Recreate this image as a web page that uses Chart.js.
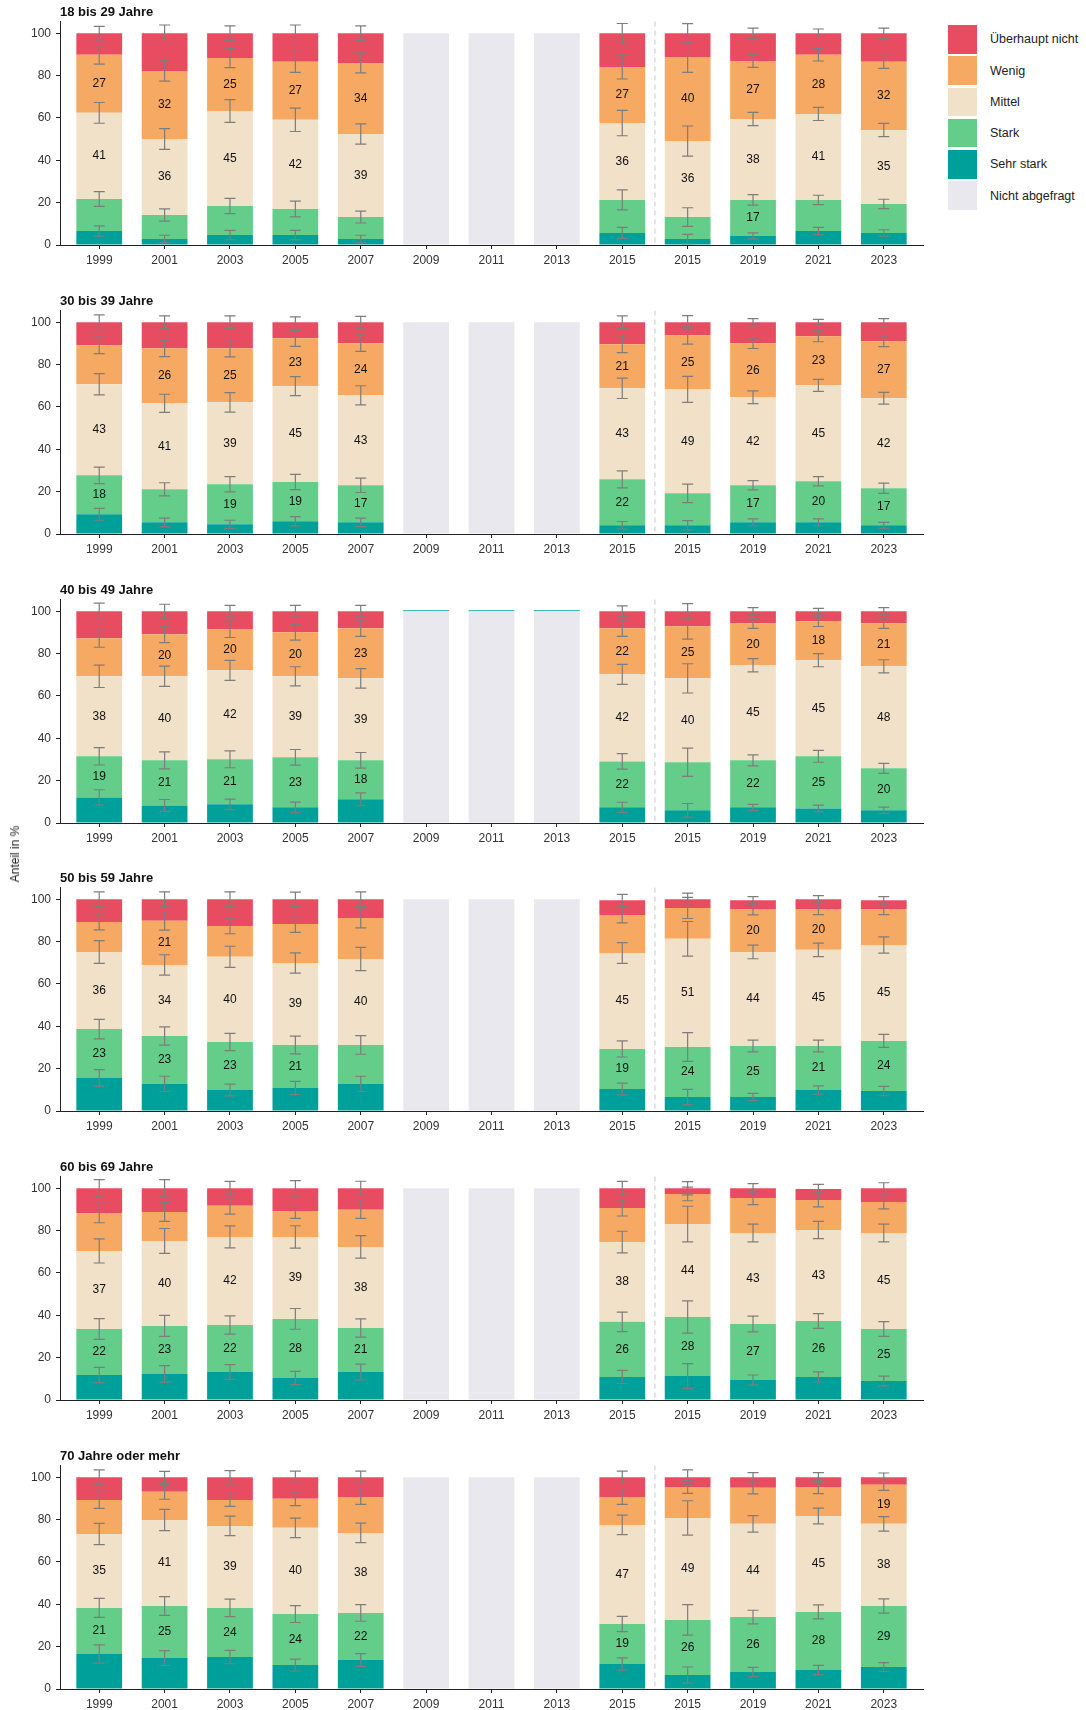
<!DOCTYPE html>
<html>
<head>
<meta charset="utf-8">
<script src="https://cdn.jsdelivr.net/npm/chart.js@4.4.0/dist/chart.umd.min.js"></script>
<style>
  body { margin: 0; background: #fff; width: 1086px; height: 1710px; overflow: hidden; position: relative;
         font-family: "Liberation Sans", Arial, sans-serif; }
  .panel { position: absolute; left: 0; width: 930px; height: 289px; }
  #legend { position: absolute; left: 948px; top: 25px; }
  .item { display: flex; align-items: center; height: 28.5px; margin-bottom: 2.8px; }
  .swatch { width: 29px; height: 28.5px; margin-right: 13px; }
  .item span { font-size: 12.5px; color: #222; }
  #ytitle { position: absolute; left: 15px; top: 854px; transform: translate(-50%, -50%) rotate(-90deg);
            font-size: 12px; color: #222; white-space: nowrap; }
</style>
</head>
<body>
<div class="panel" style="top:0px"><canvas id="c0" width="930" height="289"></canvas></div>
<div class="panel" style="top:289px"><canvas id="c1" width="930" height="289"></canvas></div>
<div class="panel" style="top:578px"><canvas id="c2" width="930" height="289"></canvas></div>
<div class="panel" style="top:866px"><canvas id="c3" width="930" height="289"></canvas></div>
<div class="panel" style="top:1155px"><canvas id="c4" width="930" height="289"></canvas></div>
<div class="panel" style="top:1444px"><canvas id="c5" width="930" height="289"></canvas></div>
<div id="legend"></div>
<div id="ytitle">Anteil in %</div>
<script>
const N = null;
const jahre = ['1999', '2001', '2003', '2005', '2007', '2009', '2011', '2013', '2015', '2015', '2019', '2021', '2023'];
const yTicks = [0, 20, 40, 60, 80, 100];
const serien = ['Sehr stark', 'Stark', 'Mittel', 'Wenig', 'Überhaupt nicht'];
const farben = ['#00a09a', '#64cd8a', '#f0e1c8', '#f5a962', '#e84c60'];
const grauFarbe = '#e8e8ee';
const nichtAbgefragt = [N, N, N, N, N, 100, 100, 100, N, N, N, N, N];
const leer = [N, N, N, N, N, N, N, N, N, N, N, N, N];

// rows: Sehr stark, Stark, Mittel, Wenig, Überhaupt nicht
// 18 bis 29 Jahre
const anteile_18_29 = [
  [6.6, 2.8, 4.7, 4.7, 2.8, N, N, N, 5.7, 2.8, 4.3, 6.6, 5.7],
  [15.1, 11.4, 13.7, 12.3, 10.4, N, N, N, 15.6, 10.4, 17.0, 14.7, 13.7],
  [40.7, 35.9, 44.9, 42.1, 39.2, N, N, N, 36.3, 35.9, 38.2, 40.6, 34.9],
  [27.4, 32.1, 25.0, 27.4, 33.6, N, N, N, 26.5, 39.7, 27.4, 27.9, 32.2],
  [10.2, 17.8, 11.7, 13.5, 14.0, N, N, N, 15.9, 11.2, 13.1, 10.2, 13.5]
];
const fehler_18_29 = [
  [2.4, 1.8, 2.2, 2.2, 1.8, N, N, N, 2.6, 2.2, 1.4, 1.7, 1.5],
  [3.5, 2.9, 3.6, 3.7, 2.8, N, N, N, 4.7, 4.4, 2.5, 2.2, 2.2],
  [4.9, 4.9, 5.4, 5.5, 4.8, N, N, N, 6.0, 7.1, 3.1, 3.1, 3.1],
  [4.4, 4.8, 4.5, 5.0, 4.7, N, N, N, 5.7, 7.3, 3.0, 2.9, 3.1],
  [3.2, 3.9, 3.5, 3.9, 3.5, N, N, N, 4.6, 4.5, 2.4, 2.0, 2.4]
];
const labels_18_29 = [
  leer,
  [N, N, N, N, N, N, N, N, N, N, 17, N, N],
  [41, 36, 45, 42, 39, N, N, N, 36, 36, 38, 41, 35],
  [27, 32, 25, 27, 34, N, N, N, 27, 40, 27, 28, 32],
  leer
];

// 30 bis 39 Jahre
const anteile_30_39 = [
  [9.3, 5.5, 4.6, 6.0, 5.5, N, N, N, 4.1, 4.1, 5.5, 5.5, 4.1],
  [18.4, 15.6, 18.9, 18.6, 17.5, N, N, N, 21.7, 15.1, 17.5, 19.4, 17.5],
  [43.0, 40.6, 38.7, 45.2, 42.5, N, N, N, 43.0, 49.1, 41.6, 45.3, 42.5],
  [18.4, 26.0, 25.5, 22.6, 24.6, N, N, N, 20.8, 25.6, 25.5, 23.2, 26.9],
  [10.9, 12.3, 12.3, 7.6, 9.9, N, N, N, 10.4, 6.1, 9.9, 6.6, 9.0]
];
const fehler_30_39 = [
  [2.8, 2.0, 1.9, 2.2, 2.0, N, N, N, 1.8, 2.2, 1.6, 1.6, 1.4],
  [3.9, 3.1, 3.6, 3.6, 3.4, N, N, N, 4.0, 4.4, 2.2, 2.2, 2.4],
  [5.0, 4.3, 4.6, 4.5, 4.5, N, N, N, 4.8, 6.1, 3.0, 2.8, 2.8],
  [3.9, 3.9, 4.1, 3.8, 3.9, N, N, N, 3.9, 4.2, 2.5, 2.6, 2.5],
  [3.5, 3.0, 3.0, 2.5, 2.8, N, N, N, 3.0, 3.1, 1.7, 1.4, 1.7]
];
const labels_30_39 = [
  leer,
  [18, N, 19, 19, 17, N, N, N, 22, N, 17, 20, 17],
  [43, 41, 39, 45, 43, N, N, N, 43, 49, 42, 45, 42],
  [N, 26, 25, 23, 24, N, N, N, 21, 25, 26, 23, 27],
  leer
];

// 40 bis 49 Jahre
const anteile_40_49 = [
  [12.1, 8.3, 8.8, 7.4, 11.2, 0.5, 0.5, 0.5, 7.4, 6.0, 7.4, 6.9, 6.0],
  [19.4, 21.3, 21.3, 23.6, 18.4, N, N, N, 21.7, 22.7, 22.2, 24.6, 19.8],
  [37.8, 39.7, 42.0, 38.3, 38.7, N, N, N, 41.1, 39.6, 44.9, 45.4, 48.2],
  [17.9, 19.8, 19.4, 20.8, 23.7, N, N, N, 21.8, 24.6, 19.8, 18.4, 20.3],
  [12.8, 10.9, 8.5, 9.9, 8.0, N, N, N, 8.0, 7.1, 5.7, 4.7, 5.7]
];
const fehler_40_49 = [
  [3.6, 2.8, 2.5, 2.5, 3.0, N, N, N, 2.4, 3.2, 1.4, 1.5, 1.5],
  [4.1, 4.0, 4.0, 3.7, 3.7, N, N, N, 3.7, 6.7, 2.6, 2.8, 2.4],
  [5.3, 4.8, 4.7, 4.5, 4.6, N, N, N, 4.7, 6.9, 3.1, 3.1, 3.1],
  [4.2, 3.9, 3.9, 3.7, 3.9, N, N, N, 3.9, 6.1, 2.4, 2.5, 2.4],
  [3.8, 3.3, 2.8, 2.8, 2.8, N, N, N, 2.5, 3.6, 1.7, 1.4, 1.7]
];
const labels_40_49 = [
  leer,
  [19, 21, 21, 23, 18, N, N, N, 22, N, 22, 25, 20],
  [38, 40, 42, 39, 39, N, N, N, 42, 40, 45, 45, 48],
  [N, 20, 20, 20, 23, N, N, N, 22, 25, 20, 18, 21],
  leer
];

// 50 bis 59 Jahre
const anteile_50_59 = [
  [15.6, 12.8, 9.9, 10.9, 12.8, N, N, N, 10.4, 6.6, 6.6, 9.9, 9.4],
  [23.1, 22.6, 22.7, 20.3, 18.4, N, N, N, 18.9, 23.6, 24.1, 20.8, 23.7],
  [36.4, 33.6, 40.2, 38.7, 40.6, N, N, N, 45.3, 51.1, 44.4, 45.4, 45.3],
  [14.2, 20.8, 14.6, 18.4, 19.4, N, N, N, 18.0, 14.6, 20.3, 19.3, 17.0],
  [10.7, 10.2, 12.6, 11.7, 8.8, N, N, N, 6.9, 4.1, 4.1, 4.6, 4.1]
];
const fehler_50_59 = [
  [3.9, 3.6, 2.8, 3.1, 3.6, N, N, N, 2.8, 3.6, 1.7, 2.0, 2.2],
  [4.6, 4.3, 4.1, 4.2, 4.4, N, N, N, 3.8, 6.8, 2.8, 2.8, 3.1],
  [5.4, 4.8, 5.0, 4.8, 5.5, N, N, N, 4.9, 8.2, 3.2, 3.2, 3.8],
  [3.8, 4.4, 3.7, 3.9, 4.7, N, N, N, 3.8, 5.0, 2.8, 2.7, 2.7],
  [3.5, 3.5, 3.5, 3.4, 3.5, N, N, N, 2.8, 2.9, 1.7, 1.7, 1.7]
];
const labels_50_59 = [
  leer,
  [23, 23, 23, 21, N, N, N, N, 19, 24, 25, 21, 24],
  [36, 34, 40, 39, 40, N, N, N, 45, 51, 44, 45, 45],
  [N, 21, N, N, N, N, N, N, N, N, 20, 20, N],
  leer
];

// 60 bis 69 Jahre
const anteile_60_69 = [
  [11.8, 12.3, 13.2, 10.4, 13.2, N, N, N, 10.9, 11.3, 9.4, 10.9, 9.0],
  [21.7, 22.7, 22.2, 27.9, 20.8, N, N, N, 26.0, 27.9, 26.5, 26.4, 24.5],
  [36.9, 40.1, 41.6, 38.7, 38.3, N, N, N, 37.7, 43.9, 43.0, 43.0, 45.4],
  [17.9, 13.7, 14.7, 12.3, 17.5, N, N, N, 16.1, 14.2, 16.5, 14.2, 14.6],
  [11.7, 11.2, 8.3, 10.7, 10.2, N, N, N, 9.3, 2.7, 4.6, 5.2, 6.5]
];
const fehler_60_69 = [
  [3.6, 3.9, 3.5, 3.1, 3.7, N, N, N, 3.1, 5.9, 2.4, 2.4, 2.3],
  [4.9, 5.0, 4.3, 4.9, 4.3, N, N, N, 4.6, 7.6, 3.7, 3.5, 3.5],
  [5.7, 5.9, 5.2, 5.3, 5.3, N, N, N, 5.1, 8.4, 4.2, 4.1, 4.2],
  [4.6, 4.4, 3.9, 3.5, 4.0, N, N, N, 3.8, 3.2, 3.1, 3.3, 3.2],
  [4.1, 4.1, 3.2, 3.6, 3.3, N, N, N, 3.2, 3.1, 2.2, 2.1, 2.6]
];
const labels_60_69 = [
  leer,
  [22, 23, 22, 28, 21, N, N, N, 26, 28, 27, 26, 25],
  [37, 40, 42, 39, 38, N, N, N, 38, 44, 43, 43, 45],
  leer,
  leer
];

// 70 Jahre oder mehr
const anteile_70 = [
  [16.5, 14.6, 15.1, 11.3, 13.7, N, N, N, 11.8, 6.6, 8.0, 9.0, 10.4],
  [21.8, 24.6, 23.2, 24.1, 22.2, N, N, N, 18.9, 26.0, 26.0, 27.4, 28.8],
  [34.9, 40.6, 38.7, 40.7, 37.8, N, N, N, 46.8, 48.2, 44.0, 45.3, 38.8],
  [16.1, 13.3, 12.3, 13.7, 17.0, N, N, N, 13.2, 14.6, 17.0, 13.7, 18.4],
  [10.7, 6.9, 10.7, 10.2, 9.3, N, N, N, 9.3, 4.6, 5.0, 4.6, 3.6]
];
const fehler_70 = [
  [4.3, 3.5, 3.1, 2.8, 3.0, N, N, N, 2.9, 3.8, 2.2, 2.2, 2.1],
  [4.5, 4.4, 4.1, 4.0, 3.9, N, N, N, 3.6, 7.2, 3.2, 3.3, 3.4],
  [5.0, 5.0, 4.6, 4.6, 4.6, N, N, N, 4.6, 8.1, 3.9, 3.7, 3.4],
  [4.0, 3.5, 3.1, 3.2, 3.5, N, N, N, 3.5, 3.0, 2.9, 3.1, 2.6],
  [3.5, 2.8, 3.1, 2.9, 2.9, N, N, N, 2.9, 3.5, 2.2, 2.2, 2.0]
];
const labels_70 = [
  leer,
  [21, 25, 24, 24, 22, N, N, N, 19, 26, 26, 28, 29],
  [35, 41, 39, 40, 38, N, N, N, 47, 49, 44, 45, 38],
  [N, N, N, N, N, N, N, N, N, N, N, N, 19],
  leer
];

const panels = [
  { titel: '18 bis 29 Jahre', anteile: anteile_18_29, fehler: fehler_18_29, labels: labels_18_29 },
  { titel: '30 bis 39 Jahre', anteile: anteile_30_39, fehler: fehler_30_39, labels: labels_30_39 },
  { titel: '40 bis 49 Jahre', anteile: anteile_40_49, fehler: fehler_40_49, labels: labels_40_49 },
  { titel: '50 bis 59 Jahre', anteile: anteile_50_59, fehler: fehler_50_59, labels: labels_50_59 },
  { titel: '60 bis 69 Jahre', anteile: anteile_60_69, fehler: fehler_60_69, labels: labels_60_69 },
  { titel: '70 Jahre oder mehr', anteile: anteile_70, fehler: fehler_70, labels: labels_70 }
];

const FONT = '"Liberation Sans", Arial, sans-serif';
Chart.defaults.font.family = FONT;

// dashed separator between the two 2015 bars
const trennPlugin = {
  id: 'trenner',
  beforeDatasetsDraw(chart) {
    const { ctx, chartArea, scales: { x } } = chart;
    const px = x.getPixelForValue(8.5);
    ctx.save();
    ctx.strokeStyle = '#c8c8c8';
    ctx.lineWidth = 1;
    ctx.setLineDash([5, 4]);
    ctx.beginPath();
    ctx.moveTo(px, chartArea.top);
    ctx.lineTo(px, chartArea.bottom);
    ctx.stroke();
    ctx.restore();
  }
};

// error bars at each stack boundary + value labels inside segments
const fehlerPlugin = {
  id: 'fehlerbalken',
  afterDatasetsDraw(chart, args, opts) {
    const { ctx, scales: { y } } = chart;
    ctx.save();
    ctx.strokeStyle = '#7d7d7d';
    ctx.lineWidth = 1.2;
    opts.fehler.forEach((row, k) => {
      const meta = chart.getDatasetMeta(k + 1);
      meta.data.forEach((bar, i) => {
        const e = row[i];
        if (e == null) return;
        const cum = y.getValueForPixel(bar.y);
        const y1 = y.getPixelForValue(cum + e);
        const y2 = y.getPixelForValue(cum - e);
        ctx.beginPath();
        ctx.moveTo(bar.x, y1); ctx.lineTo(bar.x, y2);
        ctx.moveTo(bar.x - 5.5, y1); ctx.lineTo(bar.x + 5.5, y1);
        ctx.moveTo(bar.x - 5.5, y2); ctx.lineTo(bar.x + 5.5, y2);
        ctx.stroke();
      });
    });
    ctx.fillStyle = '#111';
    ctx.font = '12px ' + FONT;
    ctx.textAlign = 'center';
    ctx.textBaseline = 'middle';
    opts.labels.forEach((row, k) => {
      const meta = chart.getDatasetMeta(k + 1);
      meta.data.forEach((bar, i) => {
        const t = row[i];
        if (t == null) return;
        ctx.fillText(String(t), bar.x, (bar.y + bar.base) / 2);
      });
    });
    ctx.restore();
  }
};

const axisGrid = { display: true, drawOnChartArea: false, drawTicks: true, tickLength: 4, color: '#222', lineWidth: 1 };
const axisBorder = { display: true, color: '#222', width: 1 };

panels.forEach((p, idx) => {
  const datasets = [{
    label: 'Nicht abgefragt',
    data: nichtAbgefragt,
    backgroundColor: grauFarbe
  }].concat(serien.map((s, k) => ({
    label: s,
    data: p.anteile[k],
    backgroundColor: farben[k]
  })));

  new Chart(document.getElementById('c' + idx), {
    type: 'bar',
    data: { labels: jahre.map((_, i) => i), datasets },
    options: {
      responsive: false,
      animation: false,
      devicePixelRatio: 1,
      barPercentage: 0.7,
      categoryPercentage: 1.0,
      layout: { padding: { left: 0, right: 7, top: 0, bottom: 0 } },
      scales: {
        x: {
          type: 'linear',
          stacked: true,
          offset: false,
          min: -0.6,
          max: 12.6,
          afterBuildTicks: (s) => { s.ticks = jahre.map((_, i) => ({ value: i })); },
          afterFit: (s) => { s.height = 44; },
          grid: Object.assign({ offset: false }, axisGrid),
          border: axisBorder,
          ticks: {
            autoSkip: false,
            maxRotation: 0,
            padding: 4,
            color: '#333',
            font: { size: 12 },
            callback: (v) => jahre[v]
          }
        },
        y: {
          stacked: true,
          min: 0,
          max: 105.5,
          afterBuildTicks: (s) => { s.ticks = yTicks.map(v => ({ value: v })); },
          afterFit: (s) => { s.width = 60; },
          grid: axisGrid,
          border: axisBorder,
          ticks: { padding: 5, color: '#333', font: { size: 12 } }
        }
      },
      plugins: {
        legend: { display: false },
        tooltip: { enabled: false },
        title: {
          display: true,
          text: p.titel,
          align: 'start',
          fullSize: false,
          color: '#111',
          font: { size: 13, weight: 'bold' },
          padding: { top: 5, bottom: 1 }
        },
        fehlerbalken: { fehler: p.fehler, labels: p.labels }
      }
    },
    plugins: [trennPlugin, fehlerPlugin]
  });
});

// legend (top to bottom as in the figure)
const legendEintraege = [
  ['Überhaupt nicht', farben[4]],
  ['Wenig', farben[3]],
  ['Mittel', farben[2]],
  ['Stark', farben[1]],
  ['Sehr stark', farben[0]],
  ['Nicht abgefragt', grauFarbe]
];
const legend = document.getElementById('legend');
legendEintraege.forEach(([name, farbe]) => {
  const item = document.createElement('div');
  item.className = 'item';
  item.innerHTML = `<div class="swatch" style="background:${farbe}"></div><span>${name}</span>`;
  legend.appendChild(item);
});
</script>
</body>
</html>
